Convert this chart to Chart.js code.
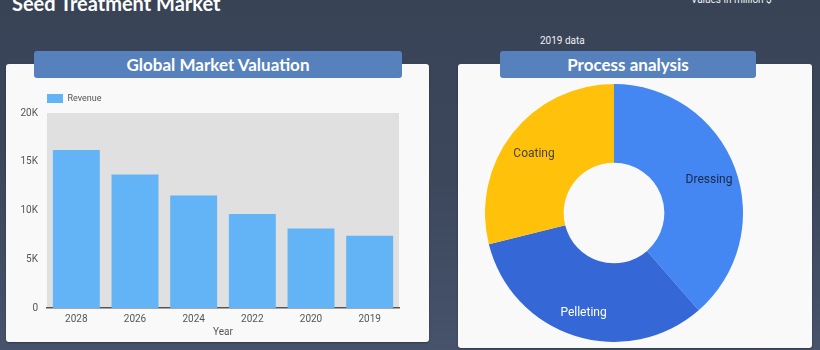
<!DOCTYPE html>
<html>
<head>
<meta charset="utf-8">
<script src="https://cdn.jsdelivr.net/npm/chart.js@4.4.1/dist/chart.umd.min.js"></script>
<style>
  html, body { margin: 0; padding: 0; }
  body {
    width: 820px; height: 350px; overflow: hidden; position: relative;
    background: linear-gradient(180deg, #384356 0%, #3c475c 50%, #46536b 100%);
    font-family: Lato, 'Noto Sans', sans-serif;
  }
  .title { position: absolute; left: 12px; top: -9px; color: #fff; font-weight: bold; font-size: 20px; }
  .note { position: absolute; left: 691px; top: -6px; color: #eef0f4; font-family: Roboto, sans-serif; font-size: 10px; }
  .data-note { position: absolute; left: 540px; top: 35px; color: #eef0f4; font-family: Roboto, sans-serif; font-size: 10px; }
  .card { position: absolute; background: #f9f9f9; border-radius: 3px; box-shadow: 0 1px 2px rgba(0,0,0,0.3); }
  .head {
    position: absolute; background: #5681bd; color: #fff; font-weight: bold; font-size: 17px;
    text-align: center; line-height: 27px; border-radius: 3px; z-index: 2;
  }
  canvas { position: absolute; z-index: 1; }
</style>
</head>
<body>
<div class="title">Seed Treatment Market</div>
<div class="note">Values in million $</div>
<div class="data-note">2019 data</div>

<div class="card" style="left:6px;top:64px;width:423px;height:278px;"></div>
<div class="head" style="left:34px;top:51px;width:368px;height:27px;">Global Market Valuation</div>
<canvas id="bar" style="left:6px;top:84px;width:424px;height:262px;"></canvas>

<div class="card" style="left:458px;top:64px;width:354px;height:284px;"></div>
<div class="head" style="left:500px;top:51px;width:256px;height:27px;">Process analysis</div>
<canvas id="donut" style="left:485px;top:84px;width:258px;height:258px;"></canvas>

<script>
const years = ['2028', '2026', '2024', '2022', '2020', '2019'];
const revenue = [16200, 13700, 11550, 9650, 8150, 7420];
const yTicks = [0, 5000, 10000, 15000, 20000];

const processes = ['Dressing', 'Pelleting', 'Coating'];
const shares = [38.6, 32.5, 28.9];
const processColors = ['#4487f3', '#3568d6', '#ffc10a'];
const labelColors = ['#17284a', '#ffffff', '#4a4330'];

// grey plot background, and legend lined up with the plot's left edge
const plotBg = {
  id: 'plotBg',
  beforeDraw(chart) {
    const a = chart.chartArea;
    chart.ctx.save();
    chart.ctx.fillStyle = '#e0e0e0';
    chart.ctx.fillRect(a.left, a.top, a.right - a.left, a.bottom - a.top);
    chart.ctx.restore();
    chart.legend.left = a.left - 10;
  }
};

new Chart(document.getElementById('bar'), {
  type: 'bar',
  data: {
    labels: years,
    datasets: [{
      label: 'Revenue',
      data: revenue,
      backgroundColor: '#63b4f6',
      borderWidth: 0,
      barPercentage: 0.8,
      categoryPercentage: 1
    }]
  },
  options: {
    responsive: false,
    animation: false,
    layout: { padding: { left: 0, right: 31, top: 0, bottom: 8 } },
    plugins: {
      legend: {
        align: 'start',
        labels: {
          boxWidth: 16, boxHeight: 9, padding: 10,
          font: { family: 'Roboto', size: 9 }, color: '#555'
        }
      },
      tooltip: { enabled: false }
    },
    scales: {
      x: {
        grid: { display: false, drawTicks: false },
        border: { display: true, color: '#555', width: 1.5 },
        ticks: { padding: 5, font: { family: 'Roboto', size: 10 }, color: '#555' },
        title: { display: true, text: 'Year', font: { family: 'Roboto', size: 10 }, color: '#555', padding: { top: -4, bottom: 0 } }
      },
      y: {
        min: 0, max: 20000,
        afterBuildTicks(scale) { scale.ticks = yTicks.map(v => ({ value: v })); },
        afterFit(scale) { scale.width = 41; },
        grid: { display: false, drawTicks: false },
        border: { display: false },
        ticks: {
          padding: 9, font: { family: 'Roboto', size: 10 }, color: '#555',
          callback: v => v === 0 ? '0' : (v / 1000) + 'K'
        }
      }
    }
  },
  plugins: [plotBg]
});

// labels inside the ring
const ringLabels = {
  id: 'ringLabels',
  afterDatasetsDraw(chart) {
    const ctx = chart.ctx;
    chart.getDatasetMeta(0).data.forEach((arc, i) => {
      const p = arc.getProps(['x', 'y', 'startAngle', 'endAngle', 'innerRadius', 'outerRadius']);
      const mid = (p.startAngle + p.endAngle) / 2;
      const r = p.innerRadius + 0.65 * (p.outerRadius - p.innerRadius);
      ctx.save();
      ctx.font = '12px Roboto';
      ctx.fillStyle = labelColors[i];
      ctx.textAlign = 'center';
      ctx.textBaseline = 'middle';
      ctx.fillText(processes[i], p.x + Math.cos(mid) * r, p.y + Math.sin(mid) * r + 3);
      ctx.restore();
    });
  }
};

new Chart(document.getElementById('donut'), {
  type: 'doughnut',
  data: {
    labels: processes,
    datasets: [{ data: shares, backgroundColor: processColors, borderWidth: 0 }]
  },
  options: {
    responsive: false,
    animation: false,
    cutout: '39%',
    layout: { padding: 0 },
    plugins: { legend: { display: false }, tooltip: { enabled: false } }
  },
  plugins: [ringLabels]
});
</script>
</body>
</html>
